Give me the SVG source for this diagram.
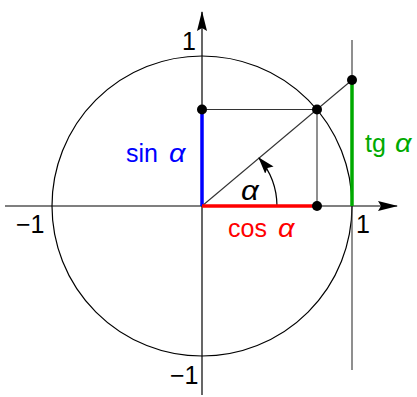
<svg xmlns="http://www.w3.org/2000/svg" width="417" height="397" viewBox="0 0 417 397">
<style>
.ax{stroke:#000;stroke-width:1.2;fill:none}
.thin{stroke:#333;stroke-width:1.1;fill:none}
.t{font-family:"Liberation Sans",Arial,sans-serif;font-size:25px}
.g{font-family:"Liberation Sans",Arial,sans-serif;font-style:italic}
</style>
<defs>
<marker id="ah" markerWidth="17" markerHeight="11" refX="16" refY="5.5" orient="auto" markerUnits="userSpaceOnUse" viewBox="0 0 17 11">
<path d="M0,0 L17,5.5 L0,11 L3,5.5 Z" fill="#000"/>
</marker>
<marker id="big" markerWidth="20" markerHeight="10" refX="19" refY="5" orient="auto" markerUnits="userSpaceOnUse" viewBox="0 0 20 10">
<path d="M0,0 L20,5 L0,10 L3,5 Z" fill="#000"/>
</marker>
</defs>
<g id="connectors">
<circle cx="202" cy="206" r="150" class="ax"/>
<line x1="5" y1="206" x2="397" y2="206" class="ax" marker-end="url(#big)"/>
<line x1="202" y1="395" x2="202" y2="12" class="ax" marker-end="url(#big)"/>
<line x1="352" y1="40" x2="352" y2="370" class="thin"/>
<line x1="202" y1="206" x2="352" y2="80" class="thin"/>
<line x1="202" y1="109.5" x2="317" y2="109.5" class="thin"/>
<line x1="317" y1="109.5" x2="317" y2="206" class="thin"/>
<path d="M277,206 A75,75 0 0 0 259,158" class="ax" stroke-width="1.6" marker-end="url(#ah)"/>
<line x1="202" y1="206" x2="202" y2="109.5" stroke="#0000ff" stroke-width="3.5"/>
<line x1="202" y1="206" x2="317" y2="206" stroke="#ff0000" stroke-width="3.5"/>
<line x1="352" y1="206" x2="352" y2="80" stroke="#00aa00" stroke-width="3.5"/>
</g>
<g id="points" fill="#000">
<circle cx="202" cy="109.5" r="5"/>
<circle cx="317" cy="109.5" r="5"/>
<circle cx="317" cy="206" r="5"/>
<circle cx="352" cy="80" r="5"/>
</g>
<g id="labels" class="t">
<text x="182" y="50">1</text>
<text x="16" y="233">−1</text>
<text x="356" y="233">1</text>
<text x="170" y="384">−1</text>
<g fill="#0000ff">
<text x="126" y="162">sin</text>
<text class="g" transform="translate(169,162) scale(1.15,1)">α</text>
</g>
<g fill="#ff0000">
<text x="228" y="237">cos</text>
<text class="g" transform="translate(278,237) scale(1.15,1)">α</text>
</g>
<g fill="#00aa00">
<text x="365" y="152">tg</text>
<text class="g" transform="translate(395,152) scale(1.15,1)">α</text>
</g>
<text class="g" font-size="27" transform="translate(241,200) scale(1.15,1)">α</text>
</g>
</svg>
